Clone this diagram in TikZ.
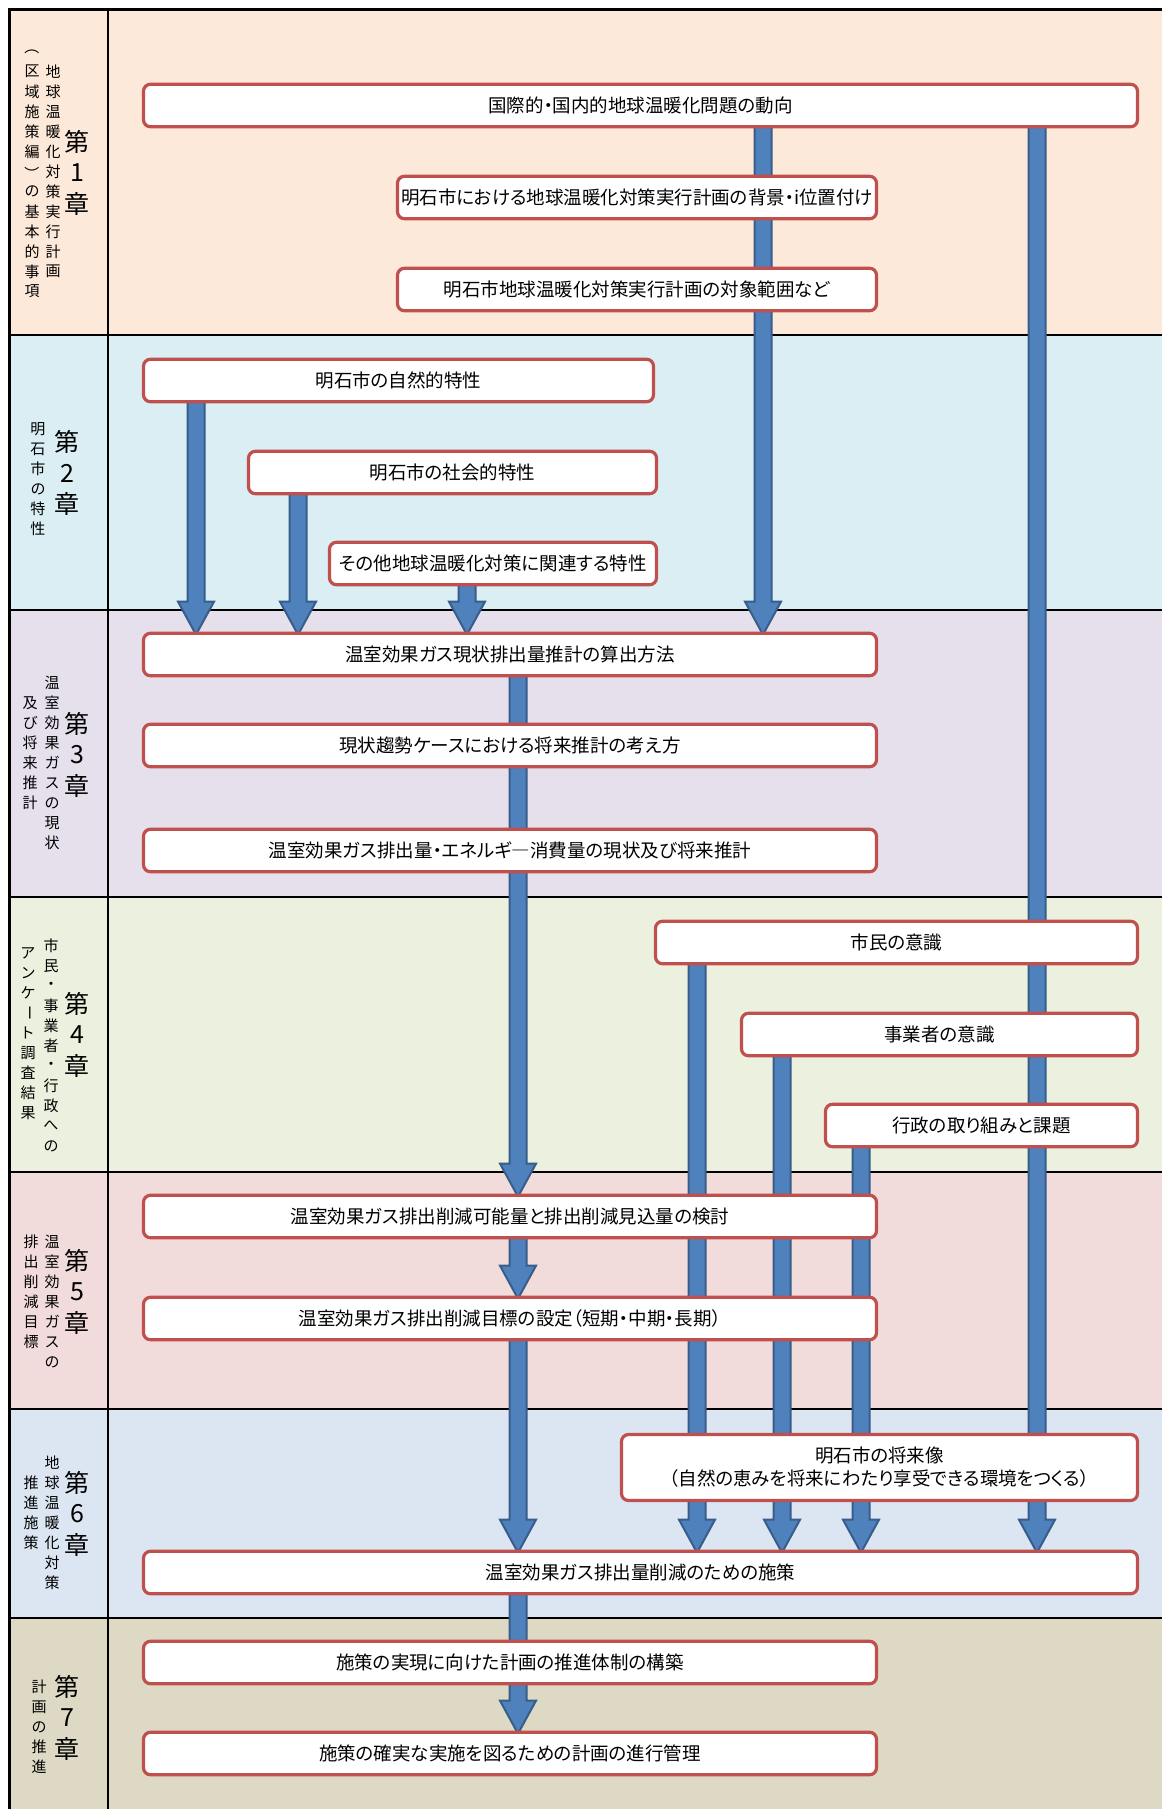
\documentclass[tikz,border=0pt]{standalone}
\usepackage{fontspec}
\setmainfont{Noto Sans CJK JP}[RawFeature=+palt]
\usepackage{graphicx}
\usetikzlibrary{calc}
\definecolor{boxred}{HTML}{C0504D}
\definecolor{flowblue}{HTML}{4F81BD}
\definecolor{flowedge}{HTML}{385D8A}
\definecolor{bandA}{HTML}{FDE9D9}
\definecolor{bandB}{HTML}{DAEEF3}
\definecolor{bandC}{HTML}{E5E0EC}
\definecolor{bandD}{HTML}{EBF1DE}
\definecolor{bandE}{HTML}{F2DCDB}
\definecolor{bandF}{HTML}{DCE6F2}
\definecolor{bandG}{HTML}{DDD9C4}
\pgfdeclarelayer{bands}
\pgfdeclarelayer{flows}
\pgfsetlayers{bands,flows,main}
\tikzset{
  itembox/.style={draw=boxred, line width=3.2pt, rounded corners=7pt, fill=white,
    minimum height=42.5pt, inner sep=0pt, align=center, font=\fontsize{18.5}{23}\selectfont},
  flowarrow/.style={fill=flowblue, draw=flowedge, line width=2pt, line join=miter},
  frameline/.style={line width=2.6pt, draw=black},
  vchar/.style={inner sep=0pt, font=\fontsize{15}{15}\selectfont},
  vbig/.style={inner sep=0pt, font=\fontsize{25}{25}\selectfont},
}
% one column of upright characters, read top to bottom
\newcommand{\vcolumn}[6][vchar]{%
  \foreach \ch [count=\k from 0] in {#6}
    \node[#1] (#2-\k) at (#3, #4+\k*#5) {\ch};}
% block arrow down a column, from the bottom of one box to the top of another
\newcommand{\blockflow}[3]{%
  \path let \p1 = (#2.south -| #1), \p2 = (#3.north -| #1) in
    [flowarrow] (\x1-8.5pt,\y1+3pt) -- (\x1-8.5pt,\y2+30pt) -- (\x1-18pt,\y2+30pt)
    -- (\x1,\y2-3pt) -- (\x1+18pt,\y2+30pt) -- (\x1+8.5pt,\y2+30pt)
    -- (\x1+8.5pt,\y1+3pt) -- cycle;}

\begin{document}
\begin{tikzpicture}[x=1pt, y=-1pt]  % 1 unit = 1 px of the sheet, y downwards
  \useasboundingbox (0,0) rectangle (1162,1809);
  % chapter bands and frame
  \begin{pgfonlayer}{bands}
    \foreach \ytop/\ybot/\tint in {9/335/bandA, 335/610/bandB, 610/897/bandC,
        897/1172/bandD, 1172/1409/bandE, 1409/1618/bandF, 1618/1809/bandG}
      \fill[\tint] (9,\ytop) rectangle (1162,\ybot);
    \draw[frameline] (8.2,9.5) -- (1162,9.5);
    \draw[frameline] (9.5,8.2) -- (9.5,1809);
    \draw[frameline] (108,9) -- (108,1809);
    \foreach \yrow in {335,610,897,1172,1409,1618}
      \draw[frameline] (9,\yrow) -- (1162,\yrow);
  \end{pgfonlayer}

  % chapter 1
  \node[itembox, minimum width=994pt] (n-trend) at (640.5,105.5) {国際的・国内的地球温暖化問題の動向};
  \node[itembox, minimum width=479pt] (n-background) at (637,197.5) {明石市における地球温暖化対策実行計画の背景・i位置付け};
  \node[itembox, minimum width=479pt] (n-scope) at (637,289.5) {明石市地球温暖化対策実行計画の対象範囲など};
  % chapter 2
  \node[itembox, minimum width=510pt] (n-nature) at (398.5,380.5) {明石市の自然的特性};
  \node[itembox, minimum width=408pt] (n-social) at (452.5,472.5) {明石市の社会的特性};
  \node[itembox, minimum width=327pt] (n-other) at (493,563.5) {その他地球温暖化対策に関連する特性};
  % chapter 3
  \node[itembox, minimum width=733pt] (n-method) at (510,654.5) {温室効果ガス現状排出量推計の算出方法};
  \node[itembox, minimum width=733pt] (n-case) at (510,745.5) {現状趨勢ケースにおける将来推計の考え方};
  \node[itembox, minimum width=733pt] (n-current) at (510,850.5) {温室効果ガス排出量・エネルギ―消費量の現状及び将来推計};
  % chapter 4
  \node[itembox, minimum width=482pt] (n-citizen) at (896.5,942.5) {市民の意識};
  \node[itembox, minimum width=396pt] (n-business) at (939.5,1034.5) {事業者の意識};
  \node[itembox, minimum width=312pt] (n-gov) at (981.5,1125.5) {行政の取り組みと課題};
  % chapter 5
  \node[itembox, minimum width=733pt] (n-potential) at (510,1216.5) {温室効果ガス排出削減可能量と排出削減見込量の検討};
  \node[itembox, minimum width=733pt] (n-target) at (510,1318.5) {温室効果ガス排出削減目標の設定（短期・中期・長期）};
  % chapter 6
  \node[itembox, minimum width=516pt, minimum height=66pt] (n-vision) at (879.5,1467.5)
    {明石市の将来像\\（自然の恵みを将来にわたり享受できる環境をつくる）};
  \node[itembox, minimum width=994pt] (n-measures) at (640.5,1572.5) {温室効果ガス排出量削減のための施策};
  % chapter 7
  \node[itembox, minimum width=733pt] (n-system) at (510,1662.5) {施策の実現に向けた計画の推進体制の構築};
  \node[itembox, minimum width=733pt] (n-manage) at (510,1753.5) {施策の確実な実施を図るための計画の進行管理};

  % arrow columns
  \coordinate (colNature) at (196,0);
  \coordinate (colSocial) at (298,0);
  \coordinate (colOther) at (467,0);
  \coordinate (colMain) at (518,0);
  \coordinate (colCitizen) at (697,0);
  \coordinate (colPlan) at (763,0);
  \coordinate (colBusiness) at (782,0);
  \coordinate (colGov) at (861,0);
  \coordinate (colGlobal) at (1037,0);
  \begin{pgfonlayer}{flows}
    \blockflow{colPlan}{n-trend}{n-method}
    \blockflow{colGlobal}{n-trend}{n-measures}
    \blockflow{colNature}{n-nature}{n-method}
    \blockflow{colSocial}{n-social}{n-method}
    \blockflow{colOther}{n-other}{n-method}
    \blockflow{colMain}{n-method}{n-potential}
    \blockflow{colMain}{n-potential}{n-target}
    \blockflow{colMain}{n-target}{n-measures}
    \blockflow{colMain}{n-measures}{n-manage}
    \blockflow{colCitizen}{n-citizen}{n-measures}
    \blockflow{colBusiness}{n-business}{n-measures}
    \blockflow{colGov}{n-gov}{n-measures}
  \end{pgfonlayer}

  % chapter titles, vertical
  \vcolumn[vbig]{t1}{77}{142}{31}{第,1,章}
  \vcolumn{s1a}{53}{71.5}{20}{地,球,温,暖,化,対,策,実,行,計,画}
  \vcolumn{s1b}{32}{51.5}{20}{{\rotatebox[origin=c]{-90}{（}},区,域,施,策,編,{\rotatebox[origin=c]{-90}{）}},の,基,本,的,事,項}
  \vcolumn[vbig]{t2}{67}{442}{31}{第,2,章}
  \vcolumn{s2a}{38}{429}{20}{明,石,市,の,特,性}
  \vcolumn[vbig]{t3}{77}{724}{31}{第,3,章}
  \vcolumn{s3a}{52}{683}{20}{温,室,効,果,ガ,ス,の,現,状}
  \vcolumn{s3b}{30}{703}{20}{及,び,将,来,推,計}
  \vcolumn[vbig]{t4}{77}{1004}{31}{第,4,章}
  \vcolumn{s4a}{51}{946}{20}{市,民,・,事,業,者,・,行,政,へ,の}
  \vcolumn{s4b}{28}{953}{20}{ア,ン,ケ,{\rotatebox[origin=c]{-90}{ー}},ト,調,査,結,果}
  \vcolumn[vbig]{t5}{77}{1261}{31}{第,5,章}
  \vcolumn{s5a}{52}{1242}{20}{温,室,効,果,ガ,ス,の}
  \vcolumn{s5b}{31}{1242}{20}{排,出,削,減,目,標}
  \vcolumn[vbig]{t6}{77}{1483}{31}{第,6,章}
  \vcolumn{s6a}{52}{1463}{20}{地,球,温,暖,化,対,策}
  \vcolumn{s6b}{31}{1483}{20}{推,進,施,策}
  \vcolumn[vbig]{t7}{67}{1687}{31}{第,7,章}
  \vcolumn{s7a}{39}{1687}{20}{計,画,の,推,進}
\end{tikzpicture}
\end{document}
